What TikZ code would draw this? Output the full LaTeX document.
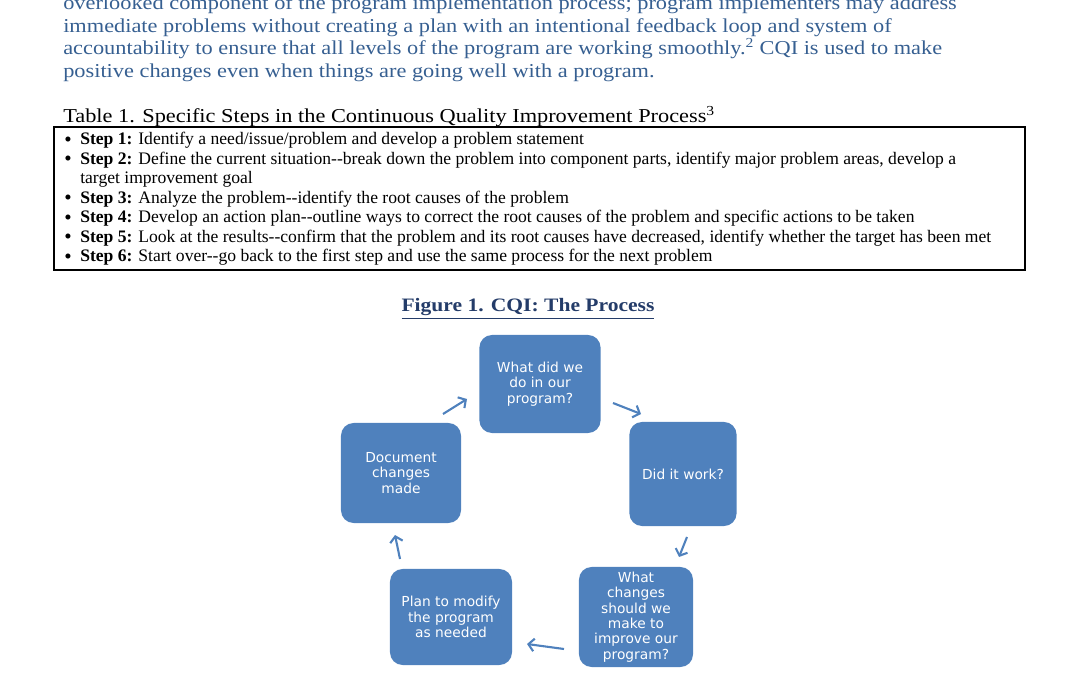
\documentclass[tikz,border=0pt]{standalone}
\usepackage{xcolor}
\usepackage{fontspec}
\setmainfont{Liberation Serif}
\newfontfamily\wideserif[FakeStretch=1.135]{Liberation Serif}
\newfontfamily\boxfont{DejaVu Sans}
\usepackage{tikz}
\usetikzlibrary{arrows.meta, positioning}
\definecolor{parablue}{RGB}{54,95,145}
\definecolor{titlenavy}{RGB}{36,60,105}
\definecolor{cqiblue}{RGB}{79,129,189}
\tikzset{
  paraline/.style={anchor=base west, inner sep=0pt,
    font=\wideserif\fontsize{14}{16}\selectfont, color=parablue},
  steprow/.style={anchor=base west, inner sep=0pt,
    font=\fontsize{12.5}{14}\selectfont},
  stepdot/.style={anchor=base west, inner sep=0pt,
    font=\fontsize{15}{14}\selectfont},
  cqibox/.style={rectangle, fill=cqiblue, rounded corners=9pt,
    align=center, text=white, inner sep=2pt,
    font=\boxfont\fontsize{9.8}{10.9}\selectfont},
  cyc/.style={-{Straight Barb[length=4pt,width=9pt]}, line width=1.5pt,
    color=cqiblue}
}

\begin{document}
\begin{tikzpicture}[x=0.025cm, y=-0.025cm]
  \useasboundingbox (0,0) rectangle (1080,675);
  \clip (0,0) rectangle (1080,675);

  % Paragraph above the table
  \node[paraline] (p1) at (63,10) {overlooked component of the program implementation process; program implementers may address};
  \node[paraline] (p2) at (63,32.5) {immediate problems without creating a plan with an intentional feedback loop and system of};
  \node[paraline] (p3) at (63,55) {accountability to ensure that all levels of the program are working smoothly.\textsuperscript{2} CQI is used to make};
  \node[paraline] (p4) at (63,77.5) {positive changes even when things are going well with a program.};

  % Table 1
  \node[anchor=base west, inner sep=0pt, font=\wideserif\fontsize{14}{16}\selectfont] (tabtitle) at (63,122.5)
    {Table 1. Specific Steps in the Continuous Quality Improvement Process\textsuperscript{3}};
  \draw[line width=0.9pt] (54,127) rectangle (1025,270);
  \foreach \y in {145,164.5,203.5,223,242.5,262}
    \node[stepdot] at (64,\y+1.5) {\textbullet};
  \node[steprow] (s1) at (80,145) {\textbf{Step 1:} Identify a need/issue/problem and develop a problem statement};
  \node[steprow] (s2) at (80,164.5) {\textbf{Step 2:} Define the current situation-{}-break down the problem into component parts, identify major problem areas, develop a};
  \node[steprow] (s2b) at (80,184) {target improvement goal};
  \node[steprow] (s3) at (80,203.5) {\textbf{Step 3:} Analyze the problem-{}-identify the root causes of the problem};
  \node[steprow] (s4) at (80,223) {\textbf{Step 4:} Develop an action plan-{}-outline ways to correct the root causes of the problem and specific actions to be taken};
  \node[steprow] (s5) at (80,242.5) {\textbf{Step 5:} Look at the results-{}-confirm that the problem and its root causes have decreased, identify whether the target has been met};
  \node[steprow] (s6) at (80,262) {\textbf{Step 6:} Start over-{}-go back to the first step and use the same process for the next problem};

  % Figure 1
  \node[anchor=base, inner sep=0pt, font=\wideserif\fontsize{13.5}{15}\selectfont\bfseries, color=titlenavy] (figtitle) at (528,312)
    {\underline{Figure 1. CQI: The Process}};

  % Cycle boxes
  \node[cqibox, minimum width=3.03cm, minimum height=2.45cm] (review) at (540,384) {What did we\\do in our\\program?};
  \node[cqibox, minimum width=2.68cm, minimum height=2.6cm] (check) at (683,474) {Did it work?};
  \node[cqibox, minimum width=2.85cm, minimum height=2.5cm] (improve) at (636,617) {What\\changes\\should we\\make to\\improve our\\program?};
  \node[cqibox, minimum width=3.05cm, minimum height=2.4cm] (plan) at (451,617) {Plan to modify\\the program\\as needed};
  \node[cqibox, minimum width=3.0cm, minimum height=2.5cm] (record) at (401,473) {Document\\changes\\made};

  % Arrows between the boxes
  \coordinate (r1s) at (443,414);  \coordinate (r1e) at (467,399);
  \coordinate (r2s) at (613,403);  \coordinate (r2e) at (641,414);
  \coordinate (r3s) at (687,537);  \coordinate (r3e) at (679,557);
  \coordinate (r4s) at (564,649);  \coordinate (r4e) at (527,644);
  \coordinate (r5s) at (400,559);  \coordinate (r5e) at (395,535);
  \draw[cyc] (r1s) -- (r1e);
  \draw[cyc] (r2s) -- (r2e);
  \draw[cyc] (r3s) -- (r3e);
  \draw[cyc] (r4s) -- (r4e);
  \draw[cyc] (r5s) -- (r5e);
\end{tikzpicture}
\end{document}
